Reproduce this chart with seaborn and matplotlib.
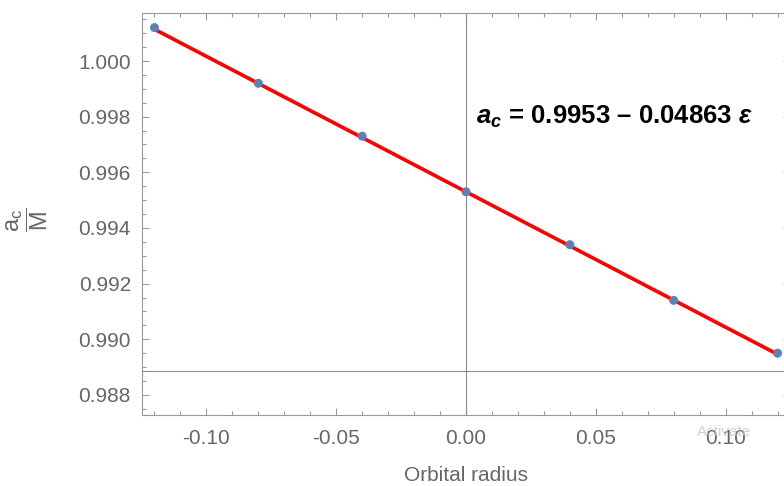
import numpy as np
import pandas as pd
import matplotlib
matplotlib.use("Agg")
import matplotlib.pyplot as plt
import seaborn as sns
from matplotlib.ticker import MultipleLocator, FormatStrFormatter

# datos
radius = [-0.12, -0.08, -0.04, 0.00, 0.04, 0.08, 0.12]
ac_over_m = [1.0012, 0.9992, 0.9973, 0.9953, 0.9934, 0.9914, 0.9895]
fit_x = [-0.12, 0.12]
fit_y = [1.00114, 0.98946]
fit_label = "= 0.9953 \u2013 0.04863"

df = pd.DataFrame({"radius": radius, "ac": ac_over_m})
fit = pd.DataFrame({"radius": fit_x, "ac": fit_y})

sns.set_theme(style="ticks")
plt.rcParams["font.family"] = ["Liberation Sans", "DejaVu Sans"]
plt.rcParams["mathtext.fontset"] = "custom"
plt.rcParams["mathtext.rm"] = "Liberation Sans"
plt.rcParams["mathtext.it"] = "Liberation Sans:italic"
plt.rcParams["mathtext.bf"] = "Liberation Sans:bold"
plt.rcParams["mathtext.bfit"] = "Liberation Sans:italic:bold"

gray = "#666666"
fig = plt.figure(figsize=(7.84, 4.86), dpi=100)
ax = fig.add_axes([142 / 784, 1 - 415 / 486, 648 / 784, 402 / 486])

# ejes tipo Mathematica
ax.axvline(0, color="#8c8c8c", lw=0.8, zorder=1)
ax.axhline(0.98886, color="#8c8c8c", lw=0.8, zorder=1)

sns.lineplot(data=fit, x="radius", y="ac", color="red", lw=2.6, ax=ax, zorder=2)
sns.scatterplot(data=df, x="radius", y="ac", color="#5E81B5", s=42,
                edgecolor="none", ax=ax, zorder=3)

ax.set_xlim(-0.1248, 0.1248)
ax.set_ylim(0.98728, 1.001725)

ax.xaxis.set_major_locator(MultipleLocator(0.05))
ax.xaxis.set_minor_locator(MultipleLocator(0.01))
ax.yaxis.set_major_locator(MultipleLocator(0.002))
ax.yaxis.set_minor_locator(MultipleLocator(0.0005))
ax.xaxis.set_major_formatter(FormatStrFormatter("%.2f"))
ax.yaxis.set_major_formatter(FormatStrFormatter("%.3f"))

ax.tick_params(which="both", direction="in", top=True, right=True,
               color="#999999", labelcolor=gray, labelsize=15, width=0.8)
ax.tick_params(which="major", length=5)
ax.tick_params(axis="x", which="major", pad=10)
ax.tick_params(axis="y", which="major", pad=8)
ax.tick_params(which="minor", length=3)
for s in ax.spines.values():
    s.set_color("#999999")
    s.set_linewidth(0.8)

ax.set_xlabel("Orbital radius", color=gray, fontsize=15, labelpad=13)
ax.set_ylabel("")
fig.text(27 / 784, 1 - 220 / 486, r"$\dfrac{\mathrm{a_c}}{\mathrm{M}}$", color=gray,
         fontsize=17, rotation=90, ha="center", va="center")

ax.text(0.0038, 0.99800, r"$\mathbfit{a_c}$ " + fit_label + r" $\mathbfit{\epsilon}$",
        fontsize=18.5, fontweight="bold", color="black", ha="left", va="center")

# marca de agua
fig.text(724 / 784, 1 - 432 / 486, "Activate", color="#c4c4c4", alpha=0.8,
         fontsize=11, ha="center", va="center")

fig.savefig("out.png", dpi=100)
